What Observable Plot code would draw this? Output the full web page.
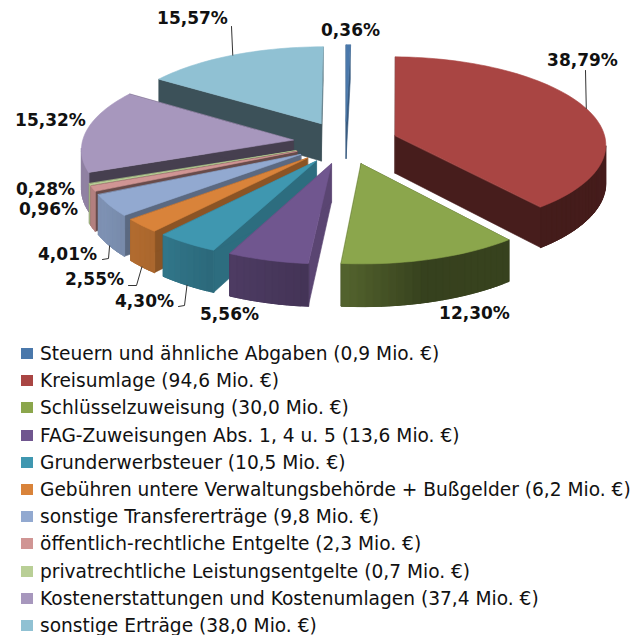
<!DOCTYPE html>
<html lang="de">
<head>
<meta charset="utf-8">
<script src="https://cdn.jsdelivr.net/npm/d3@7"></script>
<script src="https://cdn.jsdelivr.net/npm/@observablehq/plot@0.6"></script>
<style>
html,body{margin:0;padding:0;background:#fff;}
svg{display:block;}
#legend{font-family:"DejaVu Sans",sans-serif;font-size:18.6px;color:#111;}
.row{height:27.2px;display:flex;align-items:center;white-space:nowrap;}
.sw{width:12px;height:11px;margin-left:21px;margin-right:7px;flex:none;}
</style>
</head>
<body>
<div id="chart"></div>
<div id="legend"></div>
<script>
// ---- data ----
const names = ["Steuern und ähnliche Abgaben","Kreisumlage","Schlüsselzuweisung","FAG-Zuweisungen Abs. 1, 4 u. 5","Grunderwerbsteuer","Gebühren untere Verwaltungsbehörde + Bußgelder","sonstige Transfererträge","öffentlich-rechtliche Entgelte","privatrechtliche Leistungsentgelte","Kostenerstattungen und Kostenumlagen","sonstige Erträge"];
const amounts = ["0,9","94,6","30,0","13,6","10,5","6,2","9,8","2,3","0,7","37,4","38,0"];
const shares = [0.36,38.79,12.30,5.56,4.30,2.55,4.01,0.96,0.28,15.32,15.57];

// ---- style ----
const colors = ["#4a78ab","#a94543","#8ba64c","#70568f","#3f97b0","#d9833a","#92a9d0","#d09594","#b9cf96","#a797bd","#90c1d3"];
const radialShade = [0.75,0.42,0.42,0.8,0.72,0.64,0.62,0.5,0.5,0.42,0.42];
const drawOrder = [10,0,1,9,8,7,6,5,4,3,2];
const labelPx = [[350,30],[582,60],[474,313],[229,314],[144,301],[94,279],[67,254],[48,209],[45,189],[50,120],[192,18]];
const leaders = [
  {i:10, depth:0, bend:[[231,26]]},
  {i:1,  depth:0, bend:[[585,70]]},
  {i:6,  depth:1, bend:[[108,258],[102,259]]},
  {i:5,  depth:1, bend:[[136,285],[128,285]]},
  {i:4,  depth:1, bend:[[184,305],[178,306]]}
];
const wallShade = d3.scaleLinear().domain([90,165,185,205,220,240,300]).range([0.42,0.39,0.6,0.69,0.78,0.86,0.86]).clamp(true);

// ---- pie model ----
const cx = 345, cy = 142, a = 211, b = 87, persp = 0.09, explode = 0.25, dz = 38 / b, H = 340;
const rad = d => d * Math.PI / 180;
const project = (X, Y, down) => ({x: X / (1 + persp * Y), y: (Y - (down ? dz : 0)) / (1 + persp * Y)});
const tint = (c, t) => d3.interpolateRgb("#000", c)(t);

let acc = 0;
const slices = shares.map((s, i) => {
  const start = acc * 3.6; acc += s;
  const end = acc * 3.6, mid = (start + end) / 2;
  const ex = Math.sin(rad(mid)) * explode, ey = Math.cos(rad(mid)) * explode;
  const at = (theta, r, down) => project(ex + r * Math.sin(rad(theta)), ey + r * Math.cos(rad(theta)), down);
  return {i, start, end, mid, at};
});
const facesViewer = (s, t0, t1) => {
  const q = [s.at(t0,1,false), s.at(t1,1,false), s.at(t1,1,true), s.at(t0,1,true)];
  return d3.polygonArea(q.map(p => [p.x * a, p.y * b])) < 0;
};
const rows = [];
const addFace = (face, fill, pts) => pts.forEach(p => rows.push({face, fill, x: p.x, y: p.y}));
for (const k of drawOrder) {
  const s = slices[k], c = colors[k];
  const steps = Math.max(1, Math.ceil((s.end - s.start) / 2));
  const thetas = d3.range(steps + 1).map(j => s.start + (s.end - s.start) * j / steps);
  const rc = tint(c, radialShade[k]);
  for (const t of [s.start, s.end])
    addFace(`${k}-r${t}`, rc, [s.at(t,0,false), s.at(t,1,false), s.at(t,1,true), s.at(t,0,true)]);
  const segs = d3.range(steps).filter(j => facesViewer(s, thetas[j], thetas[j + 1]));
  if (segs.length) {
    const ts = thetas.slice(segs[0], segs[segs.length - 1] + 2);
    addFace(`${k}-wbase`, tint(c, wallShade((ts[0] + ts[ts.length - 1]) / 2)),
      [...ts.map(t => s.at(t,1,false)), ...ts.slice().reverse().map(t => s.at(t,1,true))]);
    for (const j of segs) {
      const t0 = thetas[j], t1 = thetas[Math.min(j + 2, segs[segs.length - 1] + 1)];
      addFace(`${k}-w${j}`, tint(c, wallShade(thetas[j] + 1)), [s.at(t0,1,false), s.at(t1,1,false), s.at(t1,1,true), s.at(t0,1,true)]);
    }
  }
  addFace(`${k}-top`, c, [s.at(0,0,false), ...thetas.map(t => s.at(t,1,false))]);
}

const pxX = px => (px - cx) / a;
const pxY = py => (cy - py) / b;
const labels = shares.map((s, i) => ({
  text: s.toFixed(2).replace(".", ",") + "%", x: pxX(labelPx[i][0]), y: pxY(labelPx[i][1])
}));
const leaderRows = leaders.flatMap((l, n) => {
  const p = slices[l.i].at(slices[l.i].mid, 1, !!l.depth);
  return [{n, x: p.x, y: p.y}, ...l.bend.map(q => ({n, x: pxX(q[0]), y: pxY(q[1])}))];
});

const chart = Plot.plot({
  width: 633, height: H, margin: 0,
  style: {background: "#fff"},
  x: {domain: [pxX(0), pxX(633)], range: [0, 633], axis: null},
  y: {domain: [pxY(0), pxY(H)], range: [0, H], axis: null},
  marks: [
    Plot.line(rows, {x: "x", y: "y", z: "face", fill: "fill", stroke: "fill", strokeWidth: 0.6, curve: "linear-closed"}),
    Plot.line(leaderRows, {x: "x", y: "y", z: "n", stroke: "#333", strokeWidth: 1}),
    Plot.text(labels, {x: "x", y: "y", text: "text", fontFamily: "'DejaVu Sans',sans-serif", fontWeight: "bold", fontSize: 17, fill: "#111"})
  ]
});
document.getElementById("chart").append(chart);

const legend = document.getElementById("legend");
names.forEach((n, i) => {
  const row = document.createElement("div"); row.className = "row";
  const sw = document.createElement("span"); sw.className = "sw"; sw.style.background = colors[i];
  const t = document.createElement("span"); t.textContent = `${n} (${amounts[i]} Mio. €)`;
  row.append(sw, t); legend.append(row);
});
</script>
</body>
</html>
